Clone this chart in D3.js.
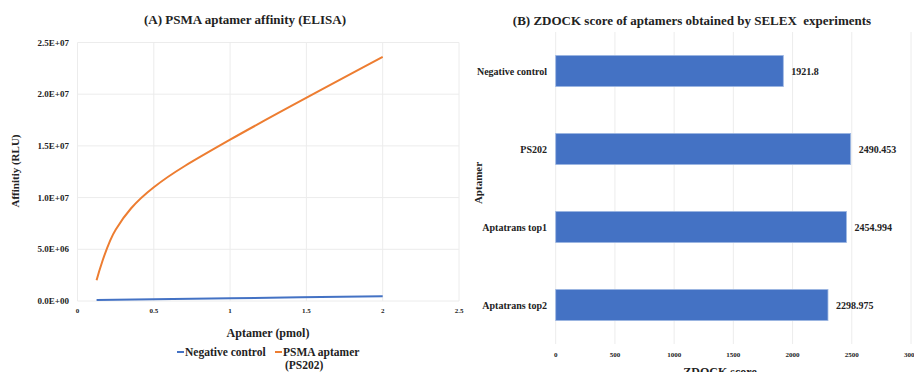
<!DOCTYPE html>
<html>
<head>
<meta charset="utf-8">
<script src="https://d3js.org/d3.v7.min.js"></script>
<style>
  body { margin: 0; background: white; }
  svg text { font-family: 'Liberation Serif', 'Times New Roman', serif; font-weight: bold; fill: #222; }
  .grid line { stroke: #ececec; stroke-width: 1; }
</style>
</head>
<body>
<svg id="chart" width="914" height="372"></svg>
<script>
// ---- data: panel A (ELISA) ----
var doses = [0.125, 0.25, 0.5, 1, 2];
var negControl = [0.10e6, 0.13e6, 0.18e6, 0.27e6, 0.45e6];
var psma = [2.0e6, 6.9e6, 11.0e6, 15.6e6, 23.6e6];
var yTicksA = [0, 5e6, 1e7, 1.5e7, 2e7, 2.5e7];
var yTickLabelsA = ["0.0.E+00", "5.0.E+06", "1.0.E+07", "1.5.E+07", "2.0.E+07", "2.5.E+07"];
var xTicksA = [0, 0.5, 1, 1.5, 2, 2.5];

// ---- data: panel B (ZDOCK) ----
var aptamers = ["Negative control", "PS202", "Aptatrans top1", "Aptatrans top2"];
var zdock = [1921.8, 2490.453, 2454.994, 2298.975];
var zdockLabels = ["1921.8", "2490.453", "2454.994", "2298.975"];
var xTicksB = [0, 500, 1000, 1500, 2000, 2500, 3000];

var svg = d3.select("#chart");

// ================= panel A =================
var xA = d3.scaleLinear().domain([0, 2.5]).range([77.5, 459]);
var yA = d3.scaleLinear().domain([0, 2.5e7]).range([301, 42.5]);

var gA = svg.append("g");

// gridlines
gA.append("g").attr("class", "grid")
  .selectAll("line").data(yTicksA).enter().append("line")
  .attr("x1", xA(0)).attr("x2", xA(2.5))
  .attr("y1", function(d) { return yA(d); }).attr("y2", function(d) { return yA(d); });
gA.append("g").attr("class", "grid")
  .selectAll("line").data(xTicksA).enter().append("line")
  .attr("x1", function(d) { return xA(d); }).attr("x2", function(d) { return xA(d); })
  .attr("y1", yA(0)).attr("y2", yA(2.5e7));

// y tick labels (Excel style, e.g. "1.5E+07")
gA.selectAll(".ytick").data(yTicksA).enter().append("text")
  .attr("x", 69).attr("y", function(d) { return yA(d) + 3; })
  .attr("text-anchor", "end").style("font-size", "9px")
  .text(function(d, i) { return yTickLabelsA[i].replace(/^(\d\.\d)\./, "$1"); });

// x tick labels
gA.selectAll(".xtick").data(xTicksA).enter().append("text")
  .attr("x", function(d) { return xA(d); }).attr("y", 313)
  .attr("text-anchor", "middle").style("font-size", "7px")
  .text(function(d) { return d; });

// Excel-like smoothed line (uniform Catmull-Rom)
var line = d3.line()
  .x(function(d, i) { return xA(doses[i]); })
  .y(function(d) { return yA(d); })
  .curve(d3.curveCatmullRom.alpha(0));

gA.append("path").datum(negControl).attr("d", line)
  .attr("fill", "none").attr("stroke", "#4472C4").attr("stroke-width", 2);
gA.append("path").datum(psma).attr("d", line)
  .attr("fill", "none").attr("stroke", "#ED7D31").attr("stroke-width", 2);

// titles
gA.append("text").attr("x", 245).attr("y", 24).attr("text-anchor", "middle")
  .style("font-size", "13px").text("(A) PSMA aptamer affinity (ELISA)");
gA.append("text").attr("transform", "translate(19,171) rotate(-90)")
  .attr("text-anchor", "middle").style("font-size", "11px").text("Affinitiy (RLU)");
gA.append("text").attr("x", 268).attr("y", 337).attr("text-anchor", "middle")
  .style("font-size", "12px").text("Aptamer (pmol)");

// legend
var legend = [
  { name: "Negative control", color: "#4472C4", x: 177 },
  { name: "PSMA aptamer", color: "#ED7D31", x: 275 }
];
var lg = gA.selectAll(".lg").data(legend).enter().append("g");
lg.append("line")
  .attr("x1", function(d) { return d.x; }).attr("x2", function(d) { return d.x + 7; })
  .attr("y1", 352).attr("y2", 352)
  .attr("stroke", function(d) { return d.color; }).attr("stroke-width", 2);
lg.append("text").attr("x", function(d) { return d.x + 8; }).attr("y", 356)
  .style("font-size", "11.5px").text(function(d) { return d.name; });
gA.append("text").attr("x", 285).attr("y", 369).style("font-size", "11.5px").text("(PS202)");

// ================= panel B =================
var xB = d3.scaleLinear().domain([0, 3000]).range([555.7, 911]);
var yB = d3.scaleBand().domain(aptamers).range([32, 344]).paddingInner(0.6).paddingOuter(0.3);

var gB = svg.append("g");

gB.append("g").attr("class", "grid")
  .selectAll("line").data(xTicksB).enter().append("line")
  .attr("x1", function(d) { return xB(d); }).attr("x2", function(d) { return xB(d); })
  .attr("y1", 32).attr("y2", 344);

gB.selectAll(".bar").data(aptamers).enter().append("rect")
  .attr("x", xB(0))
  .attr("y", function(d) { return yB(d); })
  .attr("width", function(d, i) { return xB(zdock[i]) - xB(0); })
  .attr("height", yB.bandwidth())
  .attr("fill", "#4472C4").attr("stroke", "#9fb8e3").attr("stroke-width", 0.8);

gB.selectAll(".val").data(aptamers).enter().append("text")
  .attr("x", function(d, i) { return xB(zdock[i]) + 8; })
  .attr("y", function(d) { return yB(d) + yB.bandwidth() / 2 + 3.5; })
  .style("font-size", "10px").text(function(d, i) { return zdockLabels[i]; });

gB.selectAll(".cat").data(aptamers).enter().append("text")
  .attr("x", 547)
  .attr("y", function(d) { return yB(d) + yB.bandwidth() / 2 + 3.5; })
  .attr("text-anchor", "end").style("font-size", "10px").text(function(d) { return d; });

gB.selectAll(".xtick").data(xTicksB).enter().append("text")
  .attr("x", function(d) { return xB(d); }).attr("y", 357)
  .attr("text-anchor", "middle").style("font-size", "7px").text(function(d) { return d; });

gB.append("text").attr("x", 692).attr("y", 25).attr("text-anchor", "middle")
  .style("font-size", "13px").text("(B) ZDOCK score of aptamers obtained by SELEX\u00a0 experiments");
gB.append("text").attr("transform", "translate(482,183) rotate(-90)")
  .attr("text-anchor", "middle").style("font-size", "11px").text("Aptamer");
gB.append("text").attr("x", 720).attr("y", 376).attr("text-anchor", "middle")
  .style("font-size", "12px").text("ZDOCK score");
</script>
</body>
</html>
